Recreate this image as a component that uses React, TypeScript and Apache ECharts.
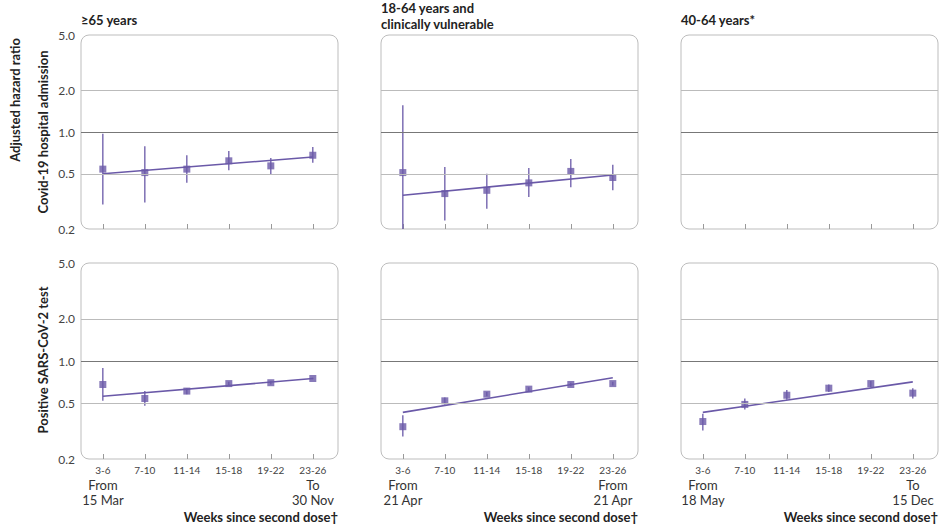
import React, { useEffect, useRef } from 'react';
import * as echarts from 'echarts';

// 周数分组
const categories = ['3-6', '7-10', '11-14', '15-18', '19-22', '23-26'];
const yTicks = [0.2, 0.5, 1, 2, 5];

// [point, low, high]
const hospOld = [[0.54, 0.30, 0.97], [0.51, 0.31, 0.79], [0.54, 0.43, 0.68], [0.62, 0.53, 0.73], [0.57, 0.49, 0.65], [0.68, 0.60, 0.78]];
const hospOldTrend = [0.50, 0.66];
const hospVuln = [[0.51, 0.17, 1.56], [0.36, 0.23, 0.56], [0.38, 0.28, 0.50], [0.43, 0.34, 0.55], [0.52, 0.40, 0.64], [0.47, 0.38, 0.58]];
const hospVulnTrend = [0.35, 0.49];
const testOld = [[0.68, 0.52, 0.89], [0.54, 0.48, 0.61], [0.61, 0.58, 0.64], [0.69, 0.67, 0.71], [0.70, 0.68, 0.72], [0.75, 0.74, 0.76]];
const testOldTrend = [0.56, 0.75];
const testVuln = [[0.34, 0.29, 0.41], [0.52, 0.49, 0.55], [0.58, 0.56, 0.60], [0.63, 0.61, 0.65], [0.68, 0.66, 0.70], [0.69, 0.67, 0.71]];
const testVulnTrend = [0.43, 0.76];
const testMid = [[0.37, 0.32, 0.42], [0.49, 0.45, 0.54], [0.57, 0.53, 0.62], [0.64, 0.60, 0.68], [0.69, 0.65, 0.72], [0.59, 0.54, 0.64]];
const testMidTrend = [0.43, 0.71];

const panels = [
  { data: hospOld, trend: hospOldTrend },
  { data: hospVuln, trend: hospVulnTrend },
  { data: null, trend: null },
  { data: testOld, trend: testOldTrend },
  { data: testVuln, trend: testVulnTrend },
  { data: testMid, trend: testMidTrend },
];

const dateLabels = [
  ['From\n15 Mar', 'To\n30 Nov'],
  ['From\n21 Apr', 'From\n21 Apr'],
  ['From\n18 May', 'To\n15 Dec'],
];

const PURPLE = '#6a59a8';
const FONT = 'Lato';
const LEFTS = [81, 381, 681];
const W = 257;
const TOPS = [35, 263];
const HS = [194, 196];

const App = () => {
  const chartRef = useRef(null);

  useEffect(() => {
    const chart = echarts.init(chartRef.current, null, { renderer: 'svg' });

    const grids: any[] = [];
    const xAxes: any[] = [];
    const yAxes: any[] = [];
    const series: any[] = [];
    const graphics: any[] = [];

    panels.forEach((p, i) => {
      const row = Math.floor(i / 3);
      const col = i % 3;
      const left = LEFTS[col];
      const top = TOPS[row];
      grids.push({ left, top, width: W, height: HS[row] });
      xAxes.push({
        gridIndex: i, type: 'value', min: -0.52, max: 5.6,
        axisLine: { show: false }, splitLine: { show: false },
        axisTick: { show: true, inside: true, length: 5, lineStyle: { color: '#999' }, customValues: [0, 1, 2, 3, 4, 5] },
        axisLabel: {
          show: row === 1, customValues: [0, 1, 2, 3, 4, 5], margin: 6,
          formatter: (v: number) => categories[v] ?? '', color: '#444', fontFamily: FONT, fontSize: 10,
        },
      });
      yAxes.push({
        gridIndex: i, type: 'log', min: 0.2, max: 5,
        axisLine: { show: false }, axisTick: { show: false }, splitLine: { show: false },
        axisLabel: {
          show: col === 0, customValues: yTicks, margin: 6,
          formatter: (v: number) => v.toFixed(1), color: '#444', fontFamily: FONT, fontSize: 12,
        },
      });
      graphics.push({
        type: 'rect', z: -1, silent: true,
        shape: { x: left, y: top, width: W, height: HS[row], r: 8 },
        style: { fill: 'none', stroke: '#bdbdbd', lineWidth: 1 },
      });
      // 参考线
      series.push({
        type: 'line', xAxisIndex: i, yAxisIndex: i, data: [], silent: true,
        markLine: {
          symbol: 'none', silent: true, label: { show: false },
          data: [
            { yAxis: 0.5, lineStyle: { color: '#bbb', width: 1, type: 'solid' } },
            { yAxis: 1, lineStyle: { color: '#777', width: 1, type: 'solid' } },
            { yAxis: 2, lineStyle: { color: '#bbb', width: 1, type: 'solid' } },
          ],
        },
      });
      if (p.data) {
        series.push({
          type: 'custom', xAxisIndex: i, yAxisIndex: i, clip: true,
          data: p.data.map((d, k) => [k, d[1], d[2]]),
          renderItem: (params: any, api: any) => {
            const a = api.coord([api.value(0), api.value(1)]);
            const b = api.coord([api.value(0), api.value(2)]);
            return { type: 'line', shape: { x1: a[0], y1: a[1], x2: b[0], y2: b[1] }, style: { stroke: PURPLE, lineWidth: 1.3 } };
          },
        });
        series.push({
          type: 'line', xAxisIndex: i, yAxisIndex: i, symbol: 'none',
          data: [[0, p.trend![0]], [5, p.trend![1]]],
          lineStyle: { color: PURPLE, width: 1.6 },
        });
        series.push({
          type: 'scatter', xAxisIndex: i, yAxisIndex: i, symbol: 'rect', symbolSize: 7,
          data: p.data.map((d, k) => [k, d[0]]),
          itemStyle: { color: PURPLE },
        });
      }
    });

    const bold = { fontFamily: FONT, fontWeight: 'bold', fontSize: 13, fill: '#222' };
    graphics.push(
      { type: 'text', x: 81, y: 13, style: { ...bold, text: '≥65 years' } },
      { type: 'text', x: 381, y: 0, style: { ...bold, text: '18-64 years and\nclinically vulnerable', lineHeight: 16 } },
      { type: 'text', x: 681, y: 13, style: { ...bold, text: '40-64 years*' } },
      { type: 'text', x: 15, y: 100, rotation: Math.PI / 2, style: { ...bold, text: 'Adjusted hazard ratio', textAlign: 'center', textVerticalAlign: 'middle' } },
      { type: 'text', x: 43, y: 132, rotation: Math.PI / 2, style: { ...bold, text: 'Covid-19 hospital admission', textAlign: 'center', textVerticalAlign: 'middle' } },
      { type: 'text', x: 43, y: 360, rotation: Math.PI / 2, style: { ...bold, text: 'Positive SARS-CoV-2 test', textAlign: 'center', textVerticalAlign: 'middle' } },
    );
    LEFTS.forEach((left, c) => {
      const norm = { fontFamily: FONT, fontSize: 13, fill: '#333', lineHeight: 15 };
      graphics.push(
        { type: 'text', x: left + 22, y: 477, style: { ...norm, text: dateLabels[c][0], textAlign: 'center' } },
        { type: 'text', x: left + 232, y: 477, style: { ...norm, text: dateLabels[c][1], textAlign: 'center' } },
        { type: 'text', x: left + W, y: 510, style: { ...bold, text: 'Weeks since second dose†', textAlign: 'right' } },
      );
    });

    chart.setOption({
      animation: false,
      grid: grids,
      xAxis: xAxes,
      yAxis: yAxes,
      series,
      graphic: graphics,
    });

    return () => {
      chart.dispose();
    };
  }, []);

  return <div ref={chartRef} style={{ position: 'fixed', left: 0, top: 0, width: 940, height: 526, background: '#fff' }}></div>;
};

export default App;
